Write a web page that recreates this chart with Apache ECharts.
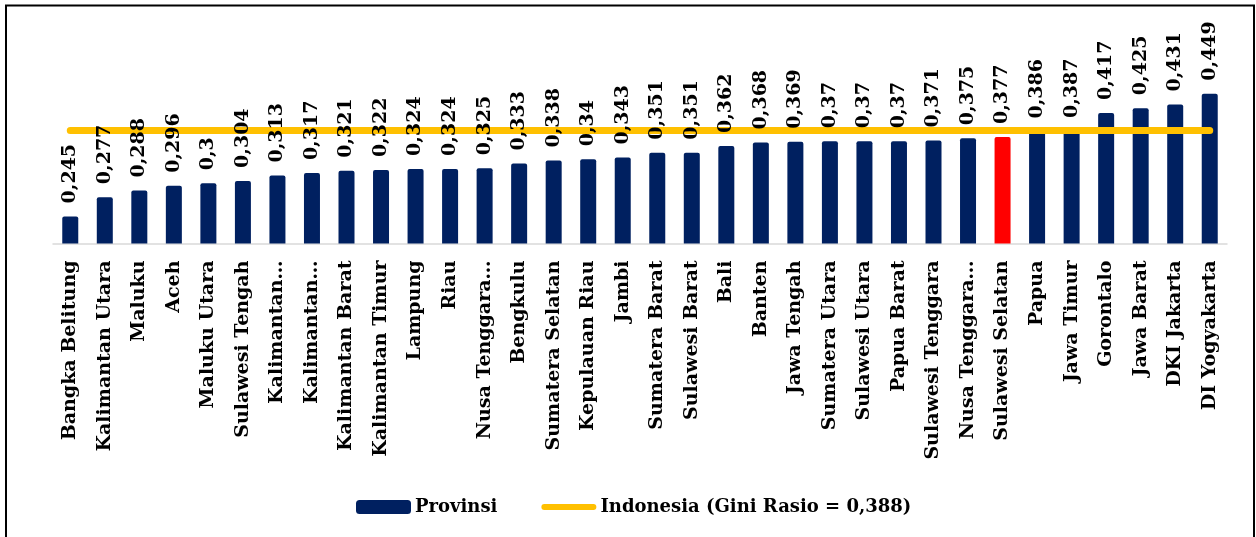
<!DOCTYPE html>
<html>
<head>
<meta charset="utf-8">
<script src="https://cdn.jsdelivr.net/npm/echarts@6/dist/echarts.min.js"></script>
<style>
	html, body {margin: 0; padding: 0; background: #fff;}
	#chart {width: 1256px; height: 537px;}
</style>
</head>
<body>
<div id="chart"></div>
<script>
// provinsi, urut dari gini rasio terendah
var provinsi = [
	'Bangka Belitung', 'Kalimantan Utara', 'Maluku', 'Aceh', 'Maluku Utara', 'Sulawesi Tengah',
	'Kalimantan…', 'Kalimantan…', 'Kalimantan Barat', 'Kalimantan Timur', 'Lampung', 'Riau',
	'Nusa Tenggara…', 'Bengkulu', 'Sumatera Selatan', 'Kepulauan Riau', 'Jambi', 'Sumatera Barat',
	'Sulawesi Barat', 'Bali', 'Banten', 'Jawa Tengah', 'Sumatera Utara', 'Sulawesi Utara',
	'Papua Barat', 'Sulawesi Tenggara', 'Nusa Tenggara…', 'Sulawesi Selatan', 'Papua', 'Jawa Timur',
	'Gorontalo', 'Jawa Barat', 'DKI Jakarta', 'DI Yogyakarta'
];
var giniProvinsi = [
	0.245, 0.277, 0.288, 0.296, 0.3, 0.304,
	0.313, 0.317, 0.321, 0.322, 0.324, 0.324,
	0.325, 0.333, 0.338, 0.34, 0.343, 0.351,
	0.351, 0.362, 0.368, 0.369, 0.37, 0.37,
	0.37, 0.371, 0.375, 0.377, 0.386, 0.387,
	0.417, 0.425, 0.431, 0.449
];
var giniIndonesia = 0.388;
var sorotan = 'Sulawesi Selatan';

var FONT = 'DejaVu Serif';
var BIRU = '#002060', MERAH = '#ff0000', KUNING = '#ffc000';

function fmt(v)
{
	return String(v).replace('.', ',');
}

var namaGaris = 'Indonesia (Gini Rasio = ' + fmt(giniIndonesia) + ')';

var barData = giniProvinsi.map(function(v, i) {
	if(provinsi[i] === sorotan)
		return {value: v, itemStyle: {color: MERAH}};
	return v;
});
var garisData = provinsi.map(function() { return giniIndonesia; });

var chart = echarts.init(document.getElementById('chart'), null, {renderer: 'canvas'});

chart.setOption({
	animation: false,
	backgroundColor: '#fff',
	grid: {left: 53, right: 29, top: 63, bottom: 293.5, containLabel: false},
	legend: {
		data: [
			{name: 'Provinsi', icon: 'roundRect'},
			// ikon garis tebal dengan ujung bulat
			{name: namaGaris, icon: 'path://M3 0H53A3 3 0 0 1 53 6H3A3 3 0 0 1 3 0Z', itemStyle: {color: KUNING}}
		],
		left: 351,
		top: 493,
		itemWidth: 55,
		itemHeight: 14,
		itemGap: 44,
		textStyle: {fontFamily: FONT, fontWeight: 'bold', fontSize: 18, color: '#000', padding: [0, 0, 0, -1]}
	},
	xAxis: {
		type: 'category',
		data: provinsi,
		axisLine: {lineStyle: {color: '#d9d9d9', width: 1.5}},
		axisTick: {show: false},
		axisLabel: {
			interval: 0,
			rotate: 90,
			margin: 17,
			fontFamily: FONT,
			fontWeight: 'bold',
			fontSize: 19,
			color: '#000'
		}
	},
	yAxis: {
		type: 'value',
		min: 0.2,
		max: 0.5,
		show: false,
		splitLine: {show: false}
	},
	series: [
		{
			name: 'Provinsi',
			type: 'bar',
			data: barData,
			barWidth: 16,
			z: 2,
			itemStyle: {color: BIRU, borderRadius: [2, 2, 0, 0]}
		},
		{
			name: namaGaris,
			type: 'line',
			data: garisData,
			symbol: 'none',
			z: 3,
			itemStyle: {color: KUNING},
			lineStyle: {color: KUNING, width: 7, cap: 'round'}
		},
		{
			// hanya untuk label nilai, supaya di atas garis
			name: 'label',
			type: 'bar',
			data: giniProvinsi,
			barWidth: 16,
			barGap: '-100%',
			z: 4,
			silent: true,
			itemStyle: {color: 'rgba(0,0,0,0)'},
			label: {
				show: true,
				position: 'top',
				distance: 13,
				rotate: 90,
				align: 'left',
				verticalAlign: 'middle',
				fontFamily: FONT,
				fontWeight: 'bold',
				fontSize: 19,
				color: '#000',
				formatter: function(p) { return fmt(p.value); }
			}
		}
	],
	graphic: [{
		type: 'rect',
		shape: {x: 6, y: 5.5, width: 1248, height: 545},
		style: {fill: 'none', stroke: '#000', lineWidth: 2},
		silent: true
	}]
});
</script>
</body>
</html>
